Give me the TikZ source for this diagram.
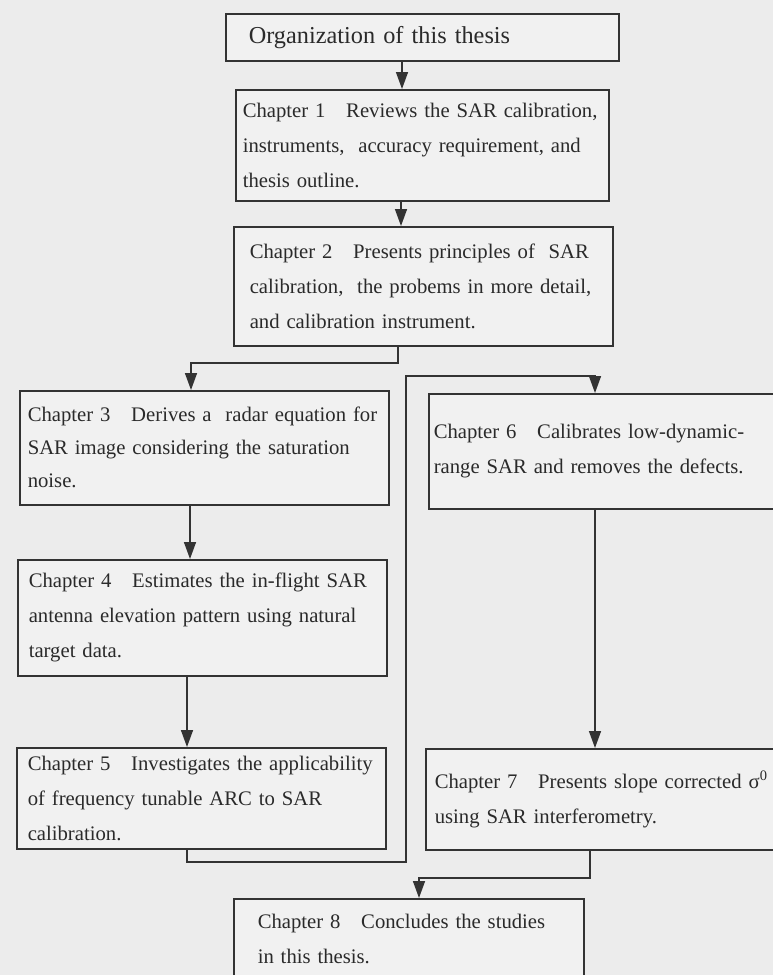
\documentclass[tikz,border=0pt]{standalone}
\usepackage{fontspec}
\setmainfont{Liberation Serif}
\usetikzlibrary{arrows.meta}
\definecolor{bg}{HTML}{ECECEC}
\definecolor{boxbg}{HTML}{F1F1F1}
\definecolor{ln}{HTML}{333333}
\definecolor{tx}{HTML}{2A2A2A}
\begin{document}
\begin{tikzpicture}[x=1pt,y=-1pt,
  chap/.style={draw=ln, line width=1.5pt, fill=boxbg, anchor=north west, align=left,
    inner ysep=0pt, text=tx, font=\fontsize{20.7}{35}\selectfont},
  link/.style={draw=ln, line width=1.5pt},
  arr/.style={link, -{Triangle[length=17pt,width=12pt]}}]
\useasboundingbox (0,0) rectangle (773,975);
\clip (0,0) rectangle (773,975);
\fill[bg] (0,0) rectangle (773,975);

\node[chap, font=\fontsize{24.3}{30}\selectfont, minimum width=393pt, minimum height=47pt,
  inner xsep=23pt, text width=347pt] (c0) at (225,13) {\mbox{Organization of this thesis}};
\node[chap, minimum width=373pt, minimum height=111pt, inner xsep=7pt, text width=359pt] (c1) at (235,89)
  {\mbox{Chapter 1\hspace{1em}Reviews the SAR calibration,}\\
   \mbox{instruments,\ \ accuracy requirement, and}\\
   \mbox{thesis outline.}};
\node[chap, minimum width=379pt, minimum height=119pt, inner xsep=16pt, text width=347pt] (c2) at (233,226)
  {\mbox{Chapter 2\hspace{1em}Presents principles of\ \ SAR}\\
   \mbox{calibration,\ \ the probems in more detail,}\\
   \mbox{and calibration instrument.}};
\node[chap, font=\fontsize{20.7}{33}\selectfont, minimum width=369pt, minimum height=114pt, inner xsep=8pt, text width=353pt] (c3) at (19,390)
  {\mbox{Chapter 3\hspace{1em}Derives a\ \ radar equation for}\\
   \mbox{SAR image considering the saturation}\\
   \mbox{noise.}};
\node[chap, minimum width=369pt, minimum height=116pt, inner xsep=11pt, text width=347pt] (c4) at (17,559)
  {\mbox{Chapter 4\hspace{1em}Estimates the in-flight SAR}\\
   \mbox{antenna elevation pattern using natural}\\
   \mbox{target data.}};
\node[chap, minimum width=369pt, minimum height=101pt, inner xsep=11pt, text width=347pt] (c5) at (16,747)
  {\mbox{Chapter 5\hspace{1em}Investigates the applicability}\\
   \mbox{of frequency tunable ARC to SAR}\\
   \mbox{calibration.}};
\node[chap, minimum width=400pt, minimum height=115pt, inner xsep=5pt, text width=390pt] (c6) at (428,393)
  {\mbox{Chapter 6\hspace{1em}Calibrates low-dynamic-}\\
   \mbox{range SAR and removes the defects.}};
\node[chap, minimum width=400pt, minimum height=101pt, inner xsep=9pt, text width=382pt] (c7) at (425,748)
  {\mbox{Chapter 7\hspace{1em}Presents slope corrected σ\textsuperscript{0}}\\
   \mbox{using SAR interferometry.}};
\node[chap, minimum width=350pt, minimum height=80pt, inner xsep=24pt, text width=302pt] (c8) at (233,898)
  {\mbox{Chapter 8\hspace{1em}Concludes the studies}\\
   \mbox{in this thesis.}};

\coordinate (xa) at (402,0);
\coordinate (xb) at (401,0);
\coordinate (b1) at (398,363);
\coordinate (b2) at (191,363);
\coordinate (xc) at (190,0);
\coordinate (xd) at (187,0);
\coordinate (d1) at (187,862);
\coordinate (d2) at (406,862);
\coordinate (d3) at (406,376);
\coordinate (d4) at (595,376);
\coordinate (e1) at (590,878);
\coordinate (e2) at (419,878);

\draw[arr] (c0.south -| xa) -- (c1.north -| xa);
\draw[arr] (c1.south -| xb) -- (c2.north -| xb);
\draw[arr] (c2.south -| b1) -- (b1) -- (b2) -- (c3.north -| b2);
\draw[arr] (c3.south -| xc) -- (c4.north -| xc);
\draw[arr] (c4.south -| xd) -- (c5.north -| xd);
\draw[arr] (c5.south -| d1) -- (d1) -- (d2) -- (d3) -- (d4) -- (c6.north -| d4);
\draw[arr] (c6.south -| d4) -- (c7.north -| d4);
\draw[arr] (c7.south -| e1) -- (e1) -- (e2) -- (c8.north -| e2);
\end{tikzpicture}
\end{document}
